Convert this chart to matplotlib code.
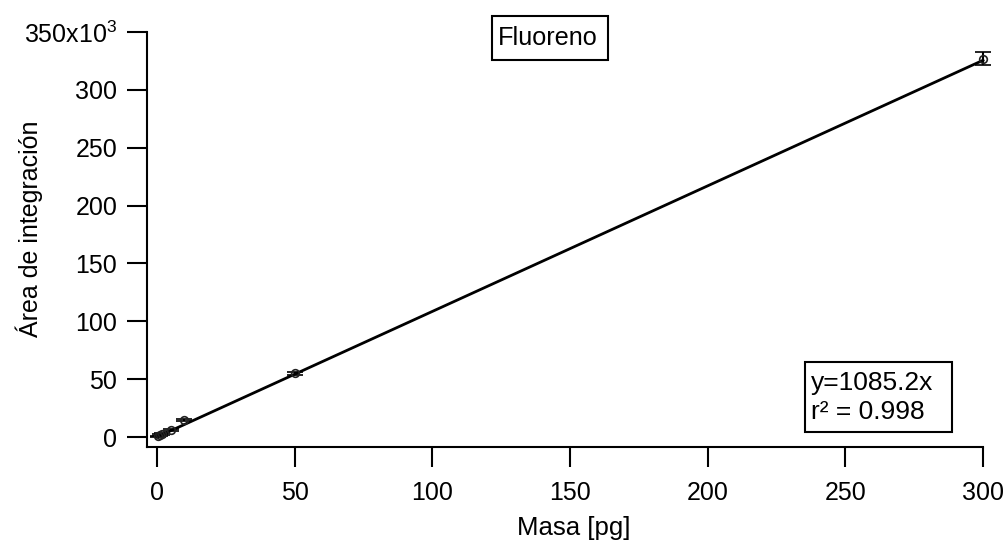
import matplotlib
matplotlib.use("Agg")
import matplotlib.pyplot as plt
from matplotlib.patches import Rectangle
import numpy as np

plt.rcParams['font.family'] = ['Liberation Sans', 'DejaVu Sans']
plt.rcParams['mathtext.fontset'] = 'custom'
plt.rcParams['mathtext.rm'] = 'Liberation Sans'
plt.rcParams['mathtext.it'] = 'Liberation Sans'

# data
masa = [0.5, 1, 2, 5, 10, 50, 300]
area = [500, 1500, 2800, 6200, 15000, 55000, 327000]
area_err = [800, 800, 800, 800, 800, 1000, 5600]
slope = 1085.2
fit_x = [0, 300]
yticks = [0, 50000, 100000, 150000, 200000, 250000, 300000, 350000]
ytick_labels = ['0', '50', '100', '150', '200', '250', '300', r'350x10$^{3}$']
xticks = [0, 50, 100, 150, 200, 250, 300]

W, H = 1008, 542
fig = plt.figure(figsize=(W/100, H/100), dpi=100)
ax = fig.add_axes([147/W, 1-447/H, (983-147)/W, (447-32)/H])

fx = np.array(fit_x)
ax.plot(fx, slope*fx, color='black', lw=2.0, zorder=2, clip_on=False)
eb = ax.errorbar(masa, area, yerr=area_err, fmt='o', ms=5.5, mfc='none', mec='#222222',
                 mew=1.2, ecolor='black', elinewidth=1.5, capsize=5.5, capthick=2,
                 zorder=3)
eb.lines[0].set_clip_on(False)
for artist in eb.lines[1]:
    artist.set_clip_on(False)
for artist in eb.lines[2]:
    artist.set_clip_on(False)

ax.set_xlim(-3.6, 300)
ax.set_ylim(-8600, 350000)
ax.set_xticks(xticks)
ax.set_xticklabels([str(v) for v in xticks])
ax.set_yticks(yticks)
ax.set_yticklabels(ytick_labels)
for s in ['top', 'right']:
    ax.spines[s].set_visible(False)
for s in ['left', 'bottom']:
    ax.spines[s].set_linewidth(1.5)
ax.tick_params(direction='out', length=14.4, width=1.5, labelsize=18)
ax.tick_params(axis='y', pad=7)
ax.tick_params(axis='x', pad=10)
ax.set_xlabel('Masa [pg]', fontsize=18.5)
ax.xaxis.set_label_coords(0.51, -0.195)
ax.xaxis.label.set_va('center')
ax.set_ylabel('Área de integración', fontsize=18)
ax.yaxis.set_label_coords(-0.1404, 0.525)
ax.yaxis.label.set_va('center')

# annotation boxes (pixel layout from the reference)
fig.patches.append(Rectangle((492/W, 1-60/H), 116/W, 44/H, transform=fig.transFigure,
                             fill=False, ec='black', lw=1.5))
fig.text(548/W, 1-38/H, 'Fluoreno', fontsize=18.2, ha='center', va='center')

fig.patches.append(Rectangle((805/W, 1-432/H), 147/W, 70/H, transform=fig.transFigure,
                             fc='white', ec='black', lw=1.5, zorder=5))
fig.text(811/W, 1-383/H, 'y=1085.2x', fontsize=19, ha='left', va='center', zorder=6)
fig.text(811/W, 1-412/H, 'r² = 0.998', fontsize=19, ha='left', va='center', zorder=6)

fig.savefig('out.png', dpi=100)
